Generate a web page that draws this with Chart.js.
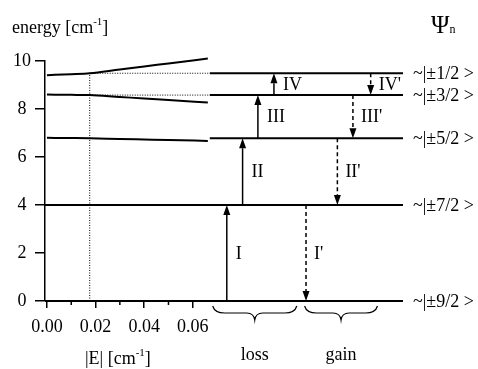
<!DOCTYPE html>
<html><head><meta charset="utf-8">
<script src="https://cdn.jsdelivr.net/npm/chart.js@4.4.0/dist/chart.umd.min.js"></script>
<style>html,body{margin:0;padding:0;background:#fff}canvas{display:block}</style>
</head><body>
<canvas id="c" width="478" height="369"></canvas>
<script>
// ---- data ----
const fieldX = [0, 0.01, 0.0176, 0.03, 0.04, 0.05, 0.0662];
const levelA = [9.41, 9.45, 9.49, 9.65, 9.77, 9.90, 10.1];
const levelB = [8.60, 8.59, 8.58, 8.50, 8.44, 8.37, 8.27];
const levelC = [6.80, 6.79, 6.78, 6.75, 6.73, 6.71, 6.67];
const fieldMarker = 0.0176;
const diagramX = [0.0670, 0.1465];
const levelEnergies = [0, 4, 6.78, 8.58, 9.49];
const stateLabels = ['~|±9/2 >', '~|±7/2 >', '~|±5/2 >', '~|±3/2 >', '~|±1/2 >'];
const lossX = [0.0740, 0.0805, 0.0868, 0.0934];
const gainX = [0.1066, 0.1195, 0.1259, 0.1332];
const lossLabels = ['I', 'II', 'III', 'IV'];
const gainLabels = ["I'", "II'", "III'", "IV'"];
const xTicks = [0, 0.02, 0.04, 0.06];
const xMinorTicks = [0.01, 0.03, 0.05];
const yTicks = [0, 2, 4, 6, 8, 10];
const groupLabels = ['loss', 'gain'];
const groupSpans = [[0.0682, 0.1028], [0.1060, 0.1360]];
const X_MIN = -0.0008, X_MAX = 0.1465;

// ---- datasets ----
const FONT = '"Liberation Serif", "Times New Roman", serif';
const base = {borderColor: '#000', pointRadius: 0, fill: false, clip: false, showLine: true};
const ds = [];
[levelA, levelB, levelC].forEach(arr => ds.push({...base, borderWidth: 2, cubicInterpolationMode: 'monotone',
  data: fieldX.map((x, i) => ({x, y: arr[i]}))}));
levelEnergies.forEach((e, i) => {
  const startX = i < 2 ? X_MIN : diagramX[0];
  ds.push({...base, borderWidth: 2, data: [{x: startX, y: e}, {x: diagramX[1], y: e}]});
});
// dotted guides
[levelEnergies[3], levelEnergies[4]].forEach(e => ds.push({...base, borderWidth: 1, borderDash: [1, 1.5],
  data: [{x: fieldMarker, y: e}, {x: diagramX[0], y: e}]}));
ds.push({...base, borderWidth: 1, borderDash: [1, 1.5],
  data: [{x: fieldMarker, y: 0}, {x: fieldMarker, y: levelEnergies[4]}]});

function richText(ctx, parts, x, y) {
  let cx = x;
  parts.forEach(p => {
    ctx.font = p.size + 'px ' + FONT;
    ctx.fillText(p.t, cx, y - (p.rise || 0));
    cx += ctx.measureText(p.t).width;
  });
}
function arrow(ctx, x, y1, y2, dashed) {
  const dir = y2 < y1 ? -1 : 1, head = 10, hw = 3.5;
  ctx.save();
  ctx.strokeStyle = '#000'; ctx.fillStyle = '#000'; ctx.lineWidth = 1.5;
  if (dashed) ctx.setLineDash([4, 3]);
  ctx.beginPath(); ctx.moveTo(x, y1); ctx.lineTo(x, y2 - dir * head); ctx.stroke();
  ctx.setLineDash([]);
  ctx.beginPath(); ctx.moveTo(x, y2); ctx.lineTo(x - hw, y2 - dir * head); ctx.lineTo(x + hw, y2 - dir * head);
  ctx.closePath(); ctx.fill();
  ctx.restore();
}
function brace(ctx, x1, x2, y) {
  const xm = (x1 + x2) / 2, d = 7, tip = 14;
  ctx.beginPath();
  ctx.moveTo(x1, y);
  ctx.quadraticCurveTo(x1 + 2, y + d, x1 + 12, y + d);
  ctx.lineTo(xm - 8, y + d);
  ctx.quadraticCurveTo(xm - 1, y + d, xm, y + tip);
  ctx.quadraticCurveTo(xm + 1, y + d, xm + 8, y + d);
  ctx.lineTo(x2 - 12, y + d);
  ctx.quadraticCurveTo(x2 - 2, y + d, x2, y);
  ctx.stroke();
}

const decor = {
  id: 'decor',
  afterDatasetsDraw(chart) {
    const ctx = chart.ctx, xs = chart.scales.x, ys = chart.scales.y, ca = chart.chartArea;
    ctx.save();
    ctx.strokeStyle = '#000'; ctx.fillStyle = '#000';
    // minor x ticks
    ctx.lineWidth = 1.5;
    xMinorTicks.forEach(v => { const px = xs.getPixelForValue(v);
      ctx.beginPath(); ctx.moveTo(px, ca.bottom); ctx.lineTo(px, ca.bottom + 4); ctx.stroke(); });
    // arrows
    for (let i = 0; i < 4; i++) {
      const yLow = ys.getPixelForValue(levelEnergies[i]), yHigh = ys.getPixelForValue(levelEnergies[i + 1]);
      const xl = xs.getPixelForValue(lossX[i]), xg = xs.getPixelForValue(gainX[i]);
      arrow(ctx, xl, yLow, yHigh, false);
      arrow(ctx, xg, yHigh, yLow, true);
      ctx.font = '18px ' + FONT; ctx.textBaseline = 'middle'; ctx.textAlign = 'left';
      const ym = (yLow + yHigh) / 2 + 1;
      ctx.fillText(lossLabels[i], xl + 9, ym);
      ctx.fillText(gainLabels[i], xg + 8, ym);
    }
    // state labels
    ctx.font = '18px ' + FONT; ctx.textBaseline = 'middle'; ctx.textAlign = 'left';
    levelEnergies.forEach((e, i) => ctx.fillText(stateLabels[i], ca.right + 10, ys.getPixelForValue(e) + 1));
    // braces
    ctx.lineWidth = 1.2;
    const y0 = ys.getPixelForValue(0);
    groupSpans.forEach((s, i) => {
      const a = xs.getPixelForValue(s[0]), b = xs.getPixelForValue(s[1]);
      brace(ctx, a, b, y0 + 5);
      ctx.textAlign = 'center'; ctx.textBaseline = 'alphabetic'; ctx.font = '18px ' + FONT;
      ctx.fillText(groupLabels[i], (a + b) / 2, 360);
    });
    // titles
    ctx.textAlign = 'left'; ctx.textBaseline = 'alphabetic';
    richText(ctx, [{t: 'energy [cm', size: 18}, {t: '-1', size: 11, rise: 8}, {t: ']', size: 18}], 12, 33);
    richText(ctx, [{t: '|E| [cm', size: 18}, {t: '-1', size: 11, rise: 8}, {t: ']', size: 18}], 85, 364);
    richText(ctx, [{t: 'Ψ', size: 25}, {t: 'n', size: 12}], 431, 33);
    ctx.restore();
  }
};

new Chart(document.getElementById('c'), {
  type: 'scatter',
  data: {datasets: ds},
  options: {
    responsive: false, animation: false, devicePixelRatio: 1,
    layout: {padding: {top: 61, right: 75, left: 0, bottom: 0}},
    plugins: {legend: {display: false}, tooltip: {enabled: false}},
    scales: {
      x: {
        type: 'linear', min: X_MIN, max: X_MAX,
        border: {display: false},
        grid: {drawOnChartArea: false, drawTicks: true, tickLength: 7, color: '#000', lineWidth: 1.5},
        ticks: {color: '#000', font: {family: FONT, size: 18}, padding: 8, maxRotation: 0,
          callback: v => Number(v).toFixed(2)},
        afterBuildTicks: s => { s.ticks = xTicks.map(v => ({value: v})); },
        afterFit: s => { s.height = 68; }
      },
      y: {
        type: 'linear', min: 0, max: 10,
        border: {display: true, color: '#000', width: 1.5},
        grid: {drawOnChartArea: false, drawTicks: true, tickLength: 10, color: '#000', lineWidth: 1.5},
        ticks: {color: '#000', font: {family: FONT, size: 18}, padding: 4, crossAlign: 'center'},
        afterBuildTicks: s => { s.ticks = yTicks.map(v => ({value: v})); },
        afterFit: s => { s.height; s.width = 45; }
      }
    }
  },
  plugins: [decor]
});
</script>
</body></html>
